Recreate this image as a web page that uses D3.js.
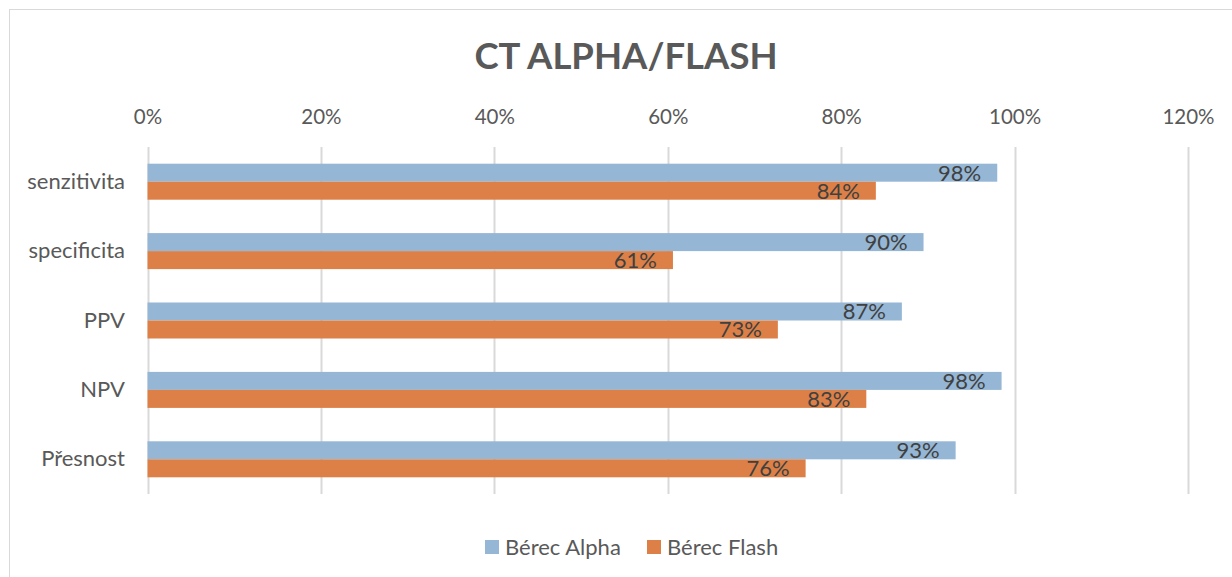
<!DOCTYPE html>
<html>
<head>
<meta charset="utf-8">
<script src="https://cdn.jsdelivr.net/npm/d3@7"></script>
<style>
  body { margin: 0; background: #fff; }
  text { font-family: Lato, "Open Sans", sans-serif; }
</style>
</head>
<body>
<svg id="chart" width="1232" height="577"></svg>
<script>
var categories = ['senzitivita', 'specificita', 'PPV', 'NPV', 'Přesnost'];
var seriesNames = ['Bérec Alpha', 'Bérec Flash'];
var alphaValues = [0.98, 0.895, 0.87, 0.985, 0.932];
var flashValues = [0.84, 0.606, 0.727, 0.829, 0.759];
var alphaLabels = ['98%', '90%', '87%', '98%', '93%'];
var flashLabels = ['84%', '61%', '73%', '83%', '76%'];
var tickValues = [0, 0.2, 0.4, 0.6, 0.8, 1.0, 1.2];
var colors = ['#95b6d4', '#dd8047'];

var svg = d3.select('#chart');

// outer chart frame
svg.append('rect')
    .attr('x', 9.5).attr('y', 9.5)
    .attr('width', 1240).attr('height', 600)
    .attr('fill', '#fff')
    .attr('stroke', '#d9d9d9');

var x = d3.scaleLinear().domain([0, 1.2]).range([147.5, 1188]);
var y = d3.scaleBand().domain(categories).range([147, 494]);

var rows = categories.map(function(c, i) {
    return {name: c, values: [alphaValues[i], flashValues[i]], labels: [alphaLabels[i], flashLabels[i]]};
});

// title
svg.append('text')
    .attr('x', 626).attr('y', 69)
    .attr('text-anchor', 'middle')
    .attr('font-size', 36.5).attr('font-weight', 'bold')
    .attr('fill', '#595959')
    .text('CT ALPHA/FLASH');

// gridlines
svg.append('g')
    .selectAll('line')
    .data(tickValues)
    .enter().append('line')
        .attr('x1', function(d) { return Math.round(x(d)) + 0.5; })
        .attr('x2', function(d) { return Math.round(x(d)) + 0.5; })
        .attr('y1', 147).attr('y2', 494)
        .attr('stroke', '#d9d9d9').attr('stroke-width', 2);

// top axis
var xAxis = d3.axisTop(x).tickValues(tickValues).tickSize(0).tickPadding(0)
    .tickFormat(function(d) { return Math.round(d * 100) + '%'; });
var ax = svg.append('g').attr('transform', 'translate(0,124)').call(xAxis);
ax.select('.domain').remove();
ax.selectAll('text').attr('font-size', 20.5).attr('fill', '#595959')
    .style('font-family', 'Lato, "Open Sans", sans-serif');

// category axis
var yAxis = d3.axisLeft(y).tickSize(0).tickPadding(0);
var ay = svg.append('g').attr('transform', 'translate(125,0)').call(yAxis);
ay.select('.domain').remove();
ay.selectAll('text').attr('font-size', 22).attr('fill', '#595959')
    .style('font-family', 'Lato, "Open Sans", sans-serif');

// bars
var barH = 18;
var groups = svg.append('g').selectAll('g')
    .data(rows)
    .enter().append('g')
        .attr('transform', function(d) { return 'translate(0,' + (y(d.name) + y.bandwidth() / 2 - barH) + ')'; });

groups.selectAll('rect')
    .data(function(d) { return d.values; })
    .enter().append('rect')
        .attr('x', x(0))
        .attr('y', function(d, i) { return i * barH; })
        .attr('width', function(d) { return x(d) - x(0); })
        .attr('height', barH)
        .attr('fill', function(d, i) { return colors[i]; });

groups.selectAll('text')
    .data(function(d) { return d.values.map(function(v, i) { return {v: v, label: d.labels[i]}; }); })
    .enter().append('text')
        .attr('x', function(d) { return x(d.v) - 16; })
        .attr('y', function(d, i) { return i * barH + barH / 2; })
        .attr('dy', '0.36em')
        .attr('text-anchor', 'end')
        .attr('font-size', 22)
        .attr('fill', '#404040')
        .text(function(d) { return d.label; });

// legend
var legendX = [485, 647];
var legend = svg.append('g').selectAll('g')
    .data(seriesNames)
    .enter().append('g')
        .attr('transform', function(d, i) { return 'translate(' + legendX[i] + ',540)'; });
legend.append('rect')
    .attr('width', 14).attr('height', 14)
    .attr('fill', function(d, i) { return colors[i]; });
legend.append('text')
    .attr('x', 20).attr('y', 7).attr('dy', '0.36em')
    .attr('font-size', 22).attr('fill', '#595959')
    .text(function(d) { return d; });
</script>
</body>
</html>
